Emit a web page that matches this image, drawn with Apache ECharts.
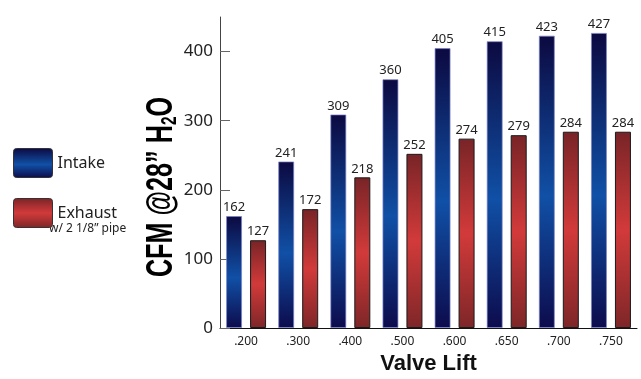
<!DOCTYPE html>
<html><head><meta charset="utf-8">
<script src="https://cdn.jsdelivr.net/npm/echarts@6/dist/echarts.min.js"></script>
<style>html,body{margin:0;padding:0;background:#fff}#c{width:641px;height:379px}</style>
</head><body><div id="c"></div>
<script>
const categories = ['.200', '.300', '.400', '.500', '.600', '.650', '.700', '.750'];
const intake = [162, 241, 309, 360, 405, 415, 423, 427];
const exhaust = [127, 172, 218, 252, 274, 279, 284, 284];
const yTicks = [0, 100, 200, 300, 400];

const chart = echarts.init(document.getElementById('c'));
const blueGrad = new echarts.graphic.LinearGradient(0, 0, 0, 1, [
  {offset: 0, color: '#0c0940'},
  {offset: 0.55, color: '#1050a6'},
  {offset: 1, color: '#0d0b4c'}
]);
const redGrad = new echarts.graphic.LinearGradient(0, 0, 0, 1, [
  {offset: 0, color: '#782427'},
  {offset: 0.5, color: '#d23a3a'},
  {offset: 1, color: '#7e2628'}
]);
const legendIcon = 'path://M3,0 H36 A3,3 0 0 1 39,3 V26 A3,3 0 0 1 36,29 H3 A3,3 0 0 1 0,26 V3 A3,3 0 0 1 3,0 Z';
const labelStyle = {show: true, position: 'top', distance: 2, fontSize: 13, color: '#222', fontFamily: 'Noto Sans'};
chart.setOption({
  animation: false,
  legend: {
    orient: 'vertical', left: 13, top: 148, padding: 0, itemWidth: 39, itemHeight: 29, itemGap: 20,
    icon: legendIcon,
    itemStyle: {borderColor: '#333', borderWidth: 1},
    textStyle: {fontSize: 16, color: '#222', fontFamily: 'Noto Sans'},
    data: ['Intake', 'Exhaust']
  },
  graphic: [{
    type: 'text', left: 49, top: 223,
    style: {text: 'w/ 2 1/8\u201d pipe', fontSize: 12, fill: '#222', fontFamily: 'Noto Sans'}
  }, {
    type: 'text', x: 162, y: 187, rotation: Math.PI / 2, scaleX: 0.7,
    style: {
      text: 'CFM @28\u201d H{sub|2}O', fontSize: 36, fontWeight: 'bold', fill: '#000',
      fontFamily: 'Liberation Sans', align: 'center', verticalAlign: 'middle',
      rich: {sub: {fontSize: 22, fontWeight: 'bold', fill: '#000', fontFamily: 'Liberation Sans', padding: [16, 0, 0, 0]}}
    }
  }],
  grid: {left: 220, right: 4, top: 17, bottom: 51, outerBoundsMode: 'none'},
  xAxis: {
    type: 'category', data: categories,
    axisLine: {lineStyle: {color: '#111', width: 1}},
    axisTick: {inside: true, length: 6, lineStyle: {color: '#555'}},
    axisLabel: {fontSize: 12, color: '#222', margin: 8, fontFamily: 'Noto Sans'},
    name: 'Valve Lift', nameLocation: 'middle', nameGap: 20,
    nameTextStyle: {fontSize: 22, fontWeight: 'bold', color: '#111', fontFamily: 'Liberation Sans'}
  },
  yAxis: {
    type: 'value', min: 0, max: 450, interval: 100,
    axisLine: {show: true, lineStyle: {color: '#444'}},
    axisTick: {show: true, inside: true, length: 10, lineStyle: {color: '#666'}, customValues: yTicks},
    axisLabel: {fontSize: 17, color: '#222', margin: 7, fontFamily: 'Noto Sans', customValues: yTicks},
    splitLine: {show: false}
  },
  series: [
    {name: 'Intake', type: 'bar', data: intake, barWidth: 16, barGap: '50%',
     itemStyle: {color: blueGrad, borderColor: 'rgba(120,130,200,0.7)', borderWidth: 1},
     label: labelStyle},
    {name: 'Exhaust', type: 'bar', data: exhaust, barWidth: 16, barGap: '50%',
     itemStyle: {color: redGrad, borderColor: '#1a1a1a', borderWidth: 1},
     label: labelStyle}
  ]
});
</script></body></html>
